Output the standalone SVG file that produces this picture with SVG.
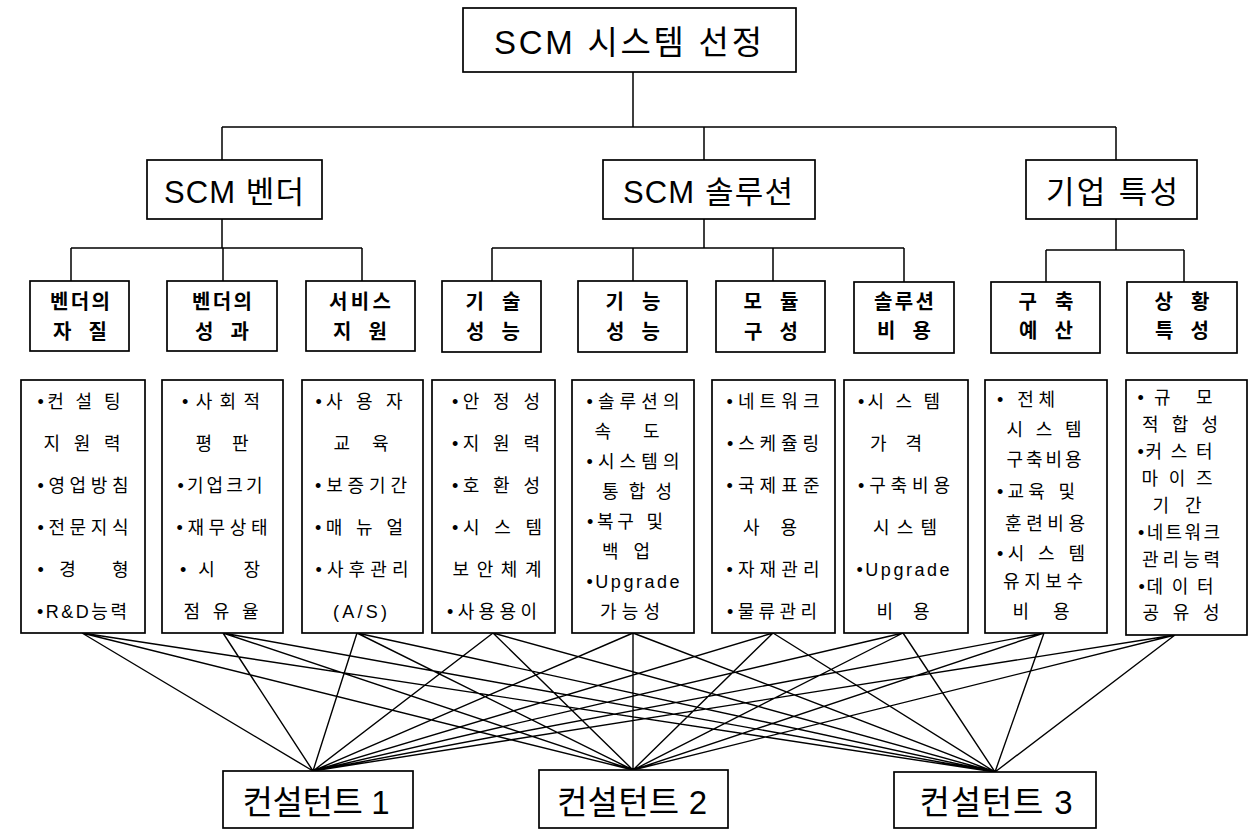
<svg xmlns="http://www.w3.org/2000/svg" width="1256" height="829" viewBox="0 0 1256 829">
<style>
.box{fill:#fff;stroke:#000;stroke-width:1.7}
.ln{stroke:#000;stroke-width:1.5;fill:none}
.cx{stroke:#000;stroke-width:1.4;fill:none}
text{font-family:"Liberation Sans","Noto Sans CJK KR",sans-serif;fill:#000;text-anchor:middle;dominant-baseline:central}
.t1{font-size:33px}
.t2{font-size:31px}
.t3{font-size:20px;font-weight:bold}
.t4{font-size:18px}
.t5{font-size:33px}
</style>
<rect width="1256" height="829" fill="#fff"/>
<g id="connectors">
<path class="ln" d="M633,72V127M222,127H1116M222,127V160M704,127V160M1116,127V160"/>
<path class="ln" d="M222,219V248M71,248H362M71,248V281M223,248V281M362,248V281"/>
<path class="ln" d="M704,219V248M492,248H904M492,248V281M633,248V281M773,248V281M904,248V282"/>
<path class="ln" d="M1116,219V250M1046,250H1184M1046,250V282M1184,250V282"/>
<path class="cx" d="M82,633L313,771M82,633L633,770M82,633L995,772
M223,633L313,771M223,633L633,770M223,633L995,772
M357,633L313,771M357,633L633,770M357,633L995,772
M493,633L313,771M493,633L633,770M493,633L995,772
M633,633L313,771M633,633L633,770M633,633L995,772
M773,633L313,771M773,633L633,770M773,633L995,772
M903,633L313,771M903,633L633,770M903,633L995,772
M1044,633L313,771M1044,633L633,770M1044,633L995,772
M1175,635L313,771M1175,635L633,770M1175,635L995,772"/>
</g>
<g id="root"><rect class="box" x="463" y="8" width="333" height="64"/><text class="t1" x="628" y="42" textLength="268">SCM 시스템 선정</text></g>
<g id="vendor"><rect class="box" x="147" y="160" width="175" height="59"/><text class="t2" x="234" y="192" textLength="140">SCM 벤더</text></g>
<g id="solution"><rect class="box" x="603" y="160" width="212" height="59"/><text class="t2" x="708" y="192" textLength="170">SCM 솔루션</text></g>
<g id="company"><rect class="box" x="1026" y="160" width="171" height="59"/><text class="t2" x="1112" y="192" textLength="132">기업 특성</text></g>
<g id="c-vendor-quality"><rect class="box" x="30" y="281" width="99" height="70"/><text class="t3" x="80" y="302" textLength="60">벤더의</text><text class="t3" x="80" y="332" textLength="54">자 질</text></g>
<g id="c-vendor-perf"><rect class="box" x="167" y="281" width="110" height="70"/><text class="t3" x="222" y="302" textLength="60">벤더의</text><text class="t3" x="222" y="332" textLength="54">성 과</text></g>
<g id="c-service"><rect class="box" x="306" y="281" width="109" height="70"/><text class="t3" x="360" y="302" textLength="62">서비스</text><text class="t3" x="360" y="332" textLength="54">지 원</text></g>
<g id="c-tech"><rect class="box" x="442" y="281" width="99" height="71"/><text class="t3" x="493" y="302" textLength="55">기 술</text><text class="t3" x="493" y="332" textLength="54">성 능</text></g>
<g id="c-func"><rect class="box" x="578" y="281" width="109" height="71"/><text class="t3" x="633" y="302" textLength="55">기 능</text><text class="t3" x="633" y="332" textLength="54">성 능</text></g>
<g id="c-module"><rect class="box" x="716" y="281" width="109" height="71"/><text class="t3" x="771" y="302" textLength="55">모 듈</text><text class="t3" x="771" y="332" textLength="54">구 성</text></g>
<g id="c-cost"><rect class="box" x="854" y="282" width="100" height="71"/><text class="t3" x="904" y="302" textLength="60">솔루션</text><text class="t3" x="904" y="331" textLength="54">비 용</text></g>
<g id="c-budget"><rect class="box" x="991" y="282" width="109" height="71"/><text class="t3" x="1046" y="302" textLength="55">구 축</text><text class="t3" x="1046" y="331" textLength="54">예 산</text></g>
<g id="c-situation"><rect class="box" x="1127" y="282" width="110" height="71"/><text class="t3" x="1182" y="302" textLength="55">상 황</text><text class="t3" x="1182" y="331" textLength="54">특 성</text></g>
<g id="d1"><rect class="box" x="21" y="380" width="124" height="253"/>
<text class="t4" x="79" y="402" textLength="83">•컨 설 팅</text>
<text class="t4" x="82" y="444" textLength="77">지 원 력</text>
<text class="t4" x="83" y="486" textLength="91">•영업방침</text>
<text class="t4" x="83" y="528" textLength="91">•전문지식</text>
<text class="t4" x="83" y="570" textLength="91">•경 형</text>
<text class="t4" x="82" y="612" textLength="90">•R&amp;D능력</text></g>
<g id="d2"><rect class="box" x="162" y="380" width="121" height="253"/>
<text class="t4" x="221" y="402" textLength="78">•사회적</text>
<text class="t4" x="222" y="444" textLength="53">평 판</text>
<text class="t4" x="220" y="486" textLength="85">•기업크기</text>
<text class="t4" x="222" y="528" textLength="91">•재무상태</text>
<text class="t4" x="220" y="570" textLength="80">•시 장</text>
<text class="t4" x="221" y="612" textLength="75">점 유 율</text></g>
<g id="d3"><rect class="box" x="302" y="380" width="121" height="253"/>
<text class="t4" x="359" y="402" textLength="87">•사 용 자</text>
<text class="t4" x="361" y="444" textLength="55">교 육</text>
<text class="t4" x="361" y="486" textLength="92">•보증기간</text>
<text class="t4" x="359" y="528" textLength="88">•매 뉴 얼</text>
<text class="t4" x="362" y="570" textLength="93">•사후관리</text>
<text class="t4" x="360" y="612" textLength="54">(A/S)</text></g>
<g id="d4"><rect class="box" x="432" y="380" width="123" height="253"/>
<text class="t4" x="496" y="402" textLength="88">•안 정 성</text>
<text class="t4" x="496" y="444" textLength="88">•지 원 력</text>
<text class="t4" x="496" y="486" textLength="88">•호 환 성</text>
<text class="t4" x="497" y="528" textLength="90">•시 스 템</text>
<text class="t4" x="497" y="570" textLength="89">보안체계</text>
<text class="t4" x="492" y="612" textLength="90">•사용용이</text></g>
<g id="d5"><rect class="box" x="572" y="380" width="122" height="253"/>
<text class="t4" x="633" y="402" textLength="93">•솔루션의</text>
<text class="t4" x="627" y="432" textLength="65">속 도</text>
<text class="t4" x="633" y="462" textLength="93">•시스템의</text>
<text class="t4" x="637" y="492" textLength="70">통합성</text>
<text class="t4" x="625" y="522" textLength="76">•복구 및</text>
<text class="t4" x="626" y="552" textLength="48">백 업</text>
<text class="t4" x="633" y="582" textLength="93">•Upgrade</text>
<text class="t4" x="630" y="612" textLength="60">가능성</text></g>
<g id="d6"><rect class="box" x="712" y="380" width="123" height="253"/>
<text class="t4" x="773" y="402" textLength="93">•네트워크</text>
<text class="t4" x="773" y="444" textLength="92">•스케쥴링</text>
<text class="t4" x="773" y="486" textLength="93">•국제표준</text>
<text class="t4" x="770" y="528" textLength="54">사 용</text>
<text class="t4" x="773" y="570" textLength="93">•자재관리</text>
<text class="t4" x="772" y="612" textLength="90">•물류관리</text></g>
<g id="d7"><rect class="box" x="844" y="380" width="124" height="253"/>
<text class="t4" x="899" y="402" textLength="82">•시 스 템</text>
<text class="t4" x="896" y="444" textLength="52">가 격</text>
<text class="t4" x="904" y="486" textLength="92">•구축비용</text>
<text class="t4" x="905" y="528" textLength="64">시스템</text>
<text class="t4" x="903" y="570" textLength="93">•Upgrade</text>
<text class="t4" x="903" y="612" textLength="53">비 용</text></g>
<g id="d8"><rect class="box" x="985" y="380" width="122" height="253"/>
<text class="t4" x="1026" y="400" textLength="58">• 전체</text>
<text class="t4" x="1044" y="430" textLength="75">시 스 템</text>
<text class="t4" x="1044" y="460" textLength="75">구축비용</text>
<text class="t4" x="1036" y="492" textLength="78">•교육 및</text>
<text class="t4" x="1045" y="524" textLength="80">훈련비용</text>
<text class="t4" x="1041" y="554" textLength="88">•시 스 템</text>
<text class="t4" x="1043" y="582" textLength="80">유지보수</text>
<text class="t4" x="1041" y="612" textLength="57">비 용</text></g>
<g id="d9"><rect class="box" x="1126" y="380" width="121" height="255"/>
<text class="t4" x="1175" y="398" textLength="75">•규 모</text>
<text class="t4" x="1180" y="425" textLength="76">적 합 성</text>
<text class="t4" x="1175" y="452" textLength="75">•커 스 터</text>
<text class="t4" x="1177" y="479" textLength="71">마 이 즈</text>
<text class="t4" x="1177" y="506" textLength="49">기 간</text>
<text class="t4" x="1179" y="533" textLength="82">•네트워크</text>
<text class="t4" x="1181" y="560" textLength="78">관리능력</text>
<text class="t4" x="1176" y="587" textLength="75">•데 이 터</text>
<text class="t4" x="1181" y="613" textLength="77">공 유 성</text></g>
<g id="consultant1"><rect class="box" x="223" y="771" width="190" height="57"/><text class="t5" x="316" y="802" textLength="147">컨설턴트 1</text></g>
<g id="consultant2"><rect class="box" x="539" y="770" width="189" height="58"/><text class="t5" x="632" y="802" textLength="150">컨설턴트 2</text></g>
<g id="consultant3"><rect class="box" x="894" y="772" width="202" height="56"/><text class="t5" x="996" y="802" textLength="153">컨설턴트 3</text></g>
</svg>
